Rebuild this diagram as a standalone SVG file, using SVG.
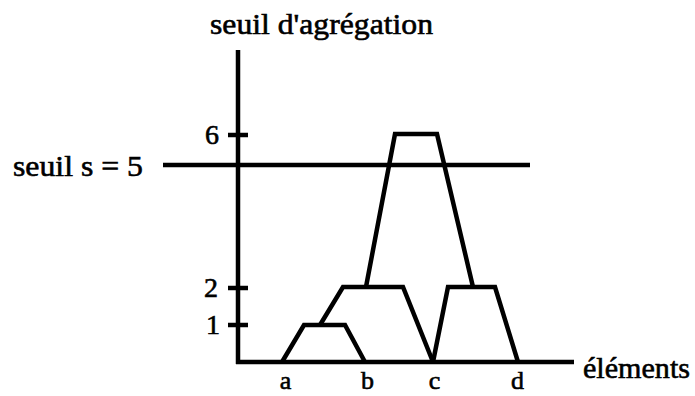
<svg xmlns="http://www.w3.org/2000/svg" width="695" height="396" viewBox="0 0 695 396">
<style>
.t{font-family:"Liberation Serif","Times New Roman",serif;font-size:30px;fill:#000;stroke:#000;stroke-width:0.6}
.d{font-family:"Liberation Serif","Times New Roman",serif;font-size:28px;fill:#000;stroke:#000;stroke-width:0.6}
.l{font-family:"Liberation Serif","Times New Roman",serif;font-size:26px;fill:#000;stroke:#000;stroke-width:0.6}
.ln{fill:none;stroke:#000;stroke-width:4.5;stroke-linejoin:miter;stroke-linecap:butt}
</style>
<rect width="695" height="396" fill="#fff"/>
<g id="axes">
<line class="ln" x1="238" y1="50" x2="238" y2="364"/>
<line class="ln" x1="236" y1="362" x2="574" y2="362"/>
<line class="ln" x1="228" y1="135" x2="248" y2="135"/>
<line class="ln" x1="228" y1="288" x2="248" y2="288"/>
<line class="ln" x1="228" y1="325" x2="248" y2="325"/>
<text class="t" x="210" y="34" textLength="223" lengthAdjust="spacingAndGlyphs">seuil d'agrégation</text>
<text class="t" x="13" y="176" textLength="130" lengthAdjust="spacingAndGlyphs">seuil s = 5</text>
<text class="t" x="583" y="378" textLength="107" lengthAdjust="spacingAndGlyphs">éléments</text>
<text class="d" x="212" y="144" text-anchor="middle">6</text>
<text class="d" x="211" y="297" text-anchor="middle">2</text>
<text class="d" x="213" y="334" text-anchor="middle">1</text>
</g>
<g id="threshold">
<line class="ln" x1="163" y1="165" x2="530" y2="165"/>
</g>
<g id="leaves">
<text class="l" x="285.5" y="389" text-anchor="middle">a</text>
<text class="l" x="367.5" y="389" text-anchor="middle">b</text>
<text class="l" x="434.5" y="389" text-anchor="middle">c</text>
<text class="l" x="517.5" y="389" text-anchor="middle">d</text>
</g>
<g id="connectors">
<polyline class="ln" points="282,362 304,325 345,325 365,362"/>
<polyline class="ln" points="320,325 343,287 403,287 433,362"/>
<polyline class="ln" points="433,362 448,287 495,287 518,362"/>
<polyline class="ln" points="366,287 395,134 437,134 473,287"/>
</g>
</svg>
